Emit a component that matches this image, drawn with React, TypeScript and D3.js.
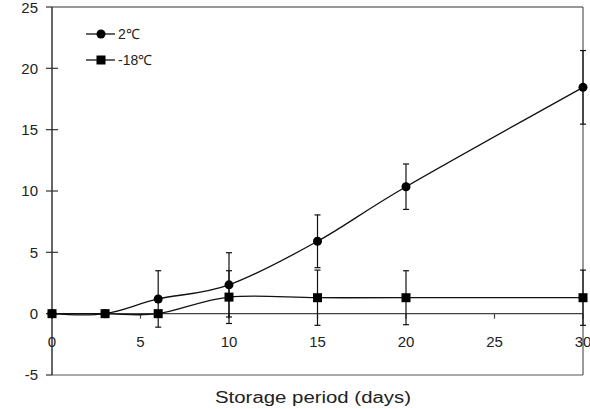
import * as d3 from 'd3';

const W = 590;
const H = 409;

// storage day for each measurement
const days = [0, 3, 6, 10, 15, 20, 30];
const warmValues = [0, 0, 1.2, 2.35, 5.9, 10.35, 18.45];
const warmErrors = [0, 0, 2.3, 2.62, 2.15, 1.85, 3.0];
const frozenValues = [0, 0, 0, 1.35, 1.3, 1.3, 1.3];
const frozenErrors = [0, 0, 0, 2.15, 2.25, 2.2, 2.25];

const xTicks = [0, 5, 10, 15, 20, 25, 30];
const yTicks = [-5, 0, 5, 10, 15, 20, 25];
const seriesNames = ['2℃', '-18℃'];

const margin = { top: 7, right: 7, bottom: 34, left: 52 };
const FONT = 'Liberation Sans, Arial, sans-serif';

export default function App() {
  const innerW = W - margin.left - margin.right;
  const innerH = H - margin.top - margin.bottom;

  const x = d3.scaleLinear().domain([0, 30]).range([0, innerW]);
  const y = d3.scaleLinear().domain([-5, 25]).range([innerH, 0]);

  const line = d3
    .line<number>()
    .x((_, i) => x(days[i]))
    .y((d) => y(d))
    .curve(d3.curveCardinal.tension(0));

  const series = [
    { name: seriesNames[0], values: warmValues, errors: warmErrors, shape: 'circle' },
    { name: seriesNames[1], values: frozenValues, errors: frozenErrors, shape: 'square' },
  ];

  const y0 = y(0);

  return (
    <>
      <style>{'body{margin:0}'}</style>
      <svg width={W} height={H} style={{ display: 'block', background: '#fff' }} fontFamily={FONT}>
        <g transform={`translate(${margin.left},${margin.top})`}>
          {/* frame */}
          <line x1={0} x2={innerW} y1={0} y2={0} stroke="#333" strokeWidth={1.2} />
          <line x1={innerW} x2={innerW} y1={0} y2={innerH} stroke="#555" strokeWidth={1.2} />
          <line x1={0} x2={innerW} y1={innerH} y2={innerH} stroke="#555" strokeWidth={1.2} />

          {/* y axis */}
          <line x1={0} x2={0} y1={0} y2={innerH} stroke="#333" strokeWidth={1.5} />
          {yTicks.map((t) => (
            <g key={t}>
              <line x1={-6} x2={t === 25 || t === -5 ? 0 : 6} y1={y(t)} y2={y(t)} stroke="#333" strokeWidth={1.2} />
              <text x={-14} y={y(t)} dy={t === 25 ? '0.42em' : '0.36em'} textAnchor="end" fontSize={15} fill="#222">
                {t}
              </text>
            </g>
          ))}

          {/* x axis along zero */}
          <line x1={0} x2={innerW} y1={y0} y2={y0} stroke="#444" strokeWidth={1.2} />
          {xTicks.map((t) => (
            <g key={t}>
              <line x1={x(t)} x2={x(t)} y1={y0} y2={y0 + 5} stroke="#444" strokeWidth={1.2} />
              <text x={x(t)} y={y0 + 33} textAnchor="middle" fontSize={15} fill="#222">
                {t}
              </text>
            </g>
          ))}

          {series.map((s) => (
            <g key={s.name}>
              <path d={line(s.values) ?? ''} fill="none" stroke="#111" strokeWidth={1.3} />
              {s.values.map((v, i) =>
                s.errors[i] > 0 ? (
                  <g key={i} stroke="#111" strokeWidth={1.2}>
                    <line x1={x(days[i])} x2={x(days[i])} y1={y(v + s.errors[i])} y2={y(v - s.errors[i])} />
                    <line x1={x(days[i]) - 3} x2={x(days[i]) + 3} y1={y(v + s.errors[i])} y2={y(v + s.errors[i])} />
                    <line x1={x(days[i]) - 3} x2={x(days[i]) + 3} y1={y(v - s.errors[i])} y2={y(v - s.errors[i])} />
                  </g>
                ) : null,
              )}
              {s.values.map((v, i) =>
                s.shape === 'circle' ? (
                  <circle key={i} cx={x(days[i])} cy={y(v)} r={4.5} fill="#000" />
                ) : (
                  <rect key={i} x={x(days[i]) - 4.5} y={y(v) - 4.5} width={9} height={9} fill="#000" />
                ),
              )}
            </g>
          ))}

          {/* legend */}
          {series.map((s, i) => {
            const ly = 27 + i * 26;
            return (
              <g key={s.name}>
                <line x1={34} x2={63} y1={ly} y2={ly} stroke="#111" strokeWidth={1.3} />
                {s.shape === 'circle' ? (
                  <circle cx={49} cy={ly} r={4.5} fill="#000" />
                ) : (
                  <rect x={44.5} y={ly - 4.5} width={9} height={9} fill="#000" />
                )}
                <text x={66} y={ly} dy="0.36em" fontSize={14} fill="#222">
                  {s.name}
                </text>
              </g>
            );
          })}
        </g>
        <text x={313} y={403} textAnchor="middle" fontSize={16} fill="#222" textLength={196} lengthAdjust="spacingAndGlyphs">
          Storage period (days)
        </text>
      </svg>
    </>
  );
}
